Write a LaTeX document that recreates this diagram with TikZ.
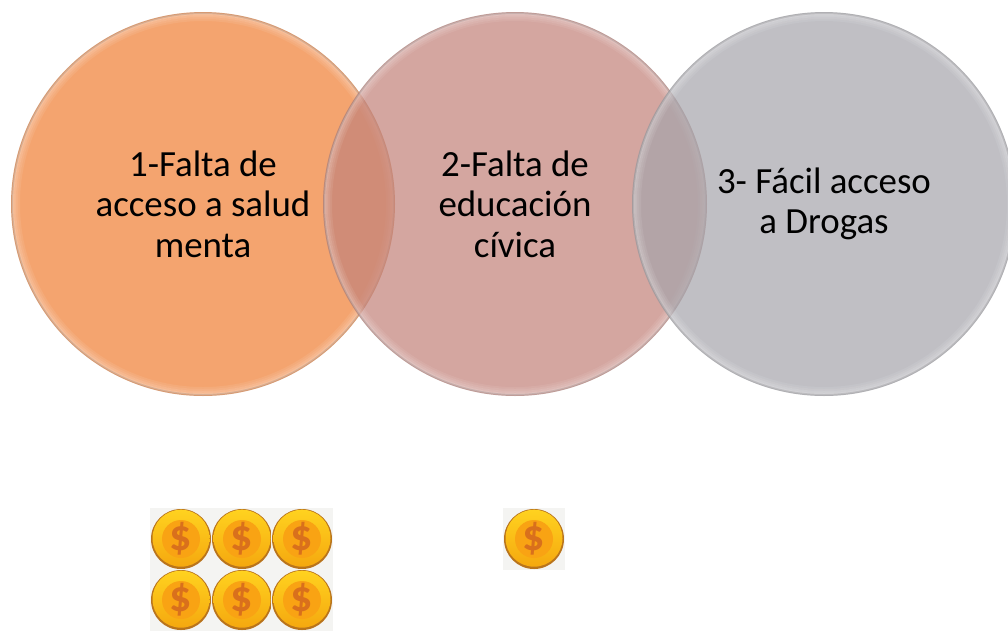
\documentclass[tikz,border=0pt]{standalone}
\usepackage{fontspec}
\setmainfont{Carlito}
\usetikzlibrary{positioning}

\definecolor{orangefill}{HTML}{F4A46F}
\definecolor{rosefill}{HTML}{C3837B}
\definecolor{greyfill}{HTML}{A5A4AB}
\definecolor{coinback}{HTML}{F4F4F2}
\definecolor{coinedge}{HTML}{B9741C}
\definecolor{coingoldtop}{HTML}{FFD21F}
\definecolor{coingoldlow}{HTML}{F5A80F}
\definecolor{coincore}{HTML}{F9A313}
\definecolor{coinmark}{HTML}{D9701C}

\tikzset{
    bubble/.style = {circle, minimum size = 7.68cm, inner sep = 0pt, align = center,
        font = \fontsize{21}{23}\selectfont, text = black},
    coinpatch/.style = {fill = coinback, minimum width = 62*0.02cm, minimum height = 62*0.02cm,
        inner sep = 0pt},
    coinmark/.style = {text = coinmark, font = \fontsize{25}{25}\selectfont\bfseries},
}

\newcommand{\coin}[2]{%
    \node[coinpatch] (#1) at (#2) {};
    \fill[coinedge] (#1.center) circle (30);
    \shade[top color = coingoldtop, bottom color = coingoldlow] ([yshift=0.8*0.02cm]#1.center) circle (28.5);
    \fill[coincore] (#1.center) circle (19);
    \node[coinmark] (#1mark) at (#1.center) {\$};
}

\newcommand{\rim}[1]{%
    \foreach \d/\o in {2/0.30, 4/0.22, 6/0.14, 8/0.08}
        \draw[white, opacity = \o, line width = 2*0.02cm] (#1.center) circle (192-\d);
    \draw[black!50, opacity = 0.25, line width = 2*0.02cm] (#1.center) circle (191);
}

\begin{document}
\begin{tikzpicture}[x = 0.02cm, y = -0.02cm]
\useasboundingbox (0,0) rectangle (1008,630);
\clip (0,0) rectangle (1008,630);

% circles
\node[bubble, fill = orangefill] (falta) at (203,204) {1-Falta de\\acceso a salud\\menta};
\rim{falta}
\node[bubble, fill = rosefill, fill opacity = 0.72, text opacity = 1] (educa) at (515,204)
    {2-Falta de\\educación\\cívica};
\rim{educa}
\node[bubble, fill = greyfill, fill opacity = 0.7, text opacity = 1] (drogas) at (824,204)
    {3- Fácil acceso\\a Drogas};
\rim{drogas}

% coins
\coin{coinA}{181,539}
\coin{coinB}{242,539}
\coin{coinC}{302,539}
\coin{coinD}{181,600}
\coin{coinE}{242,600}
\coin{coinF}{302,600}
\coin{coinG}{534,539}
\end{tikzpicture}
\end{document}
